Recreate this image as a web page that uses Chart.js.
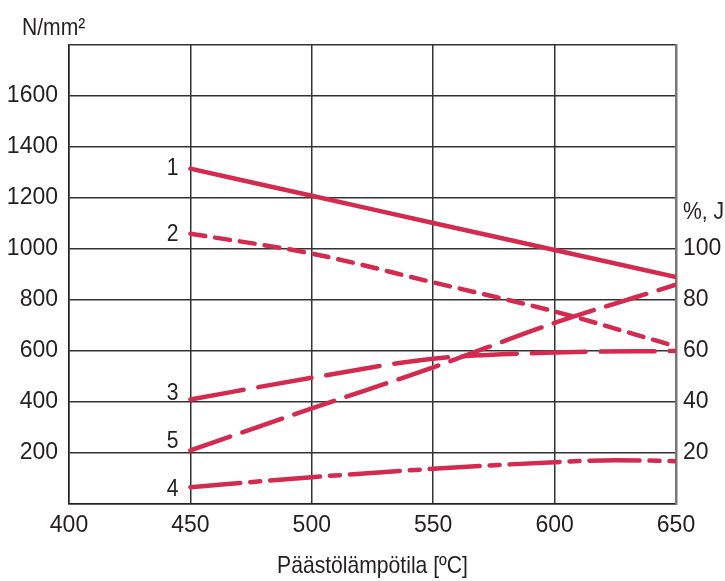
<!DOCTYPE html>
<html>
<head>
<meta charset="utf-8">
<script src="https://cdn.jsdelivr.net/npm/chart.js@4"></script>
<style>
  body { margin: 0; background: #fff; }
  canvas { display: block; }
</style>
</head>
<body>
<canvas id="chart" width="725" height="581"></canvas>
<script>
// temperatures (x) and curve values
const temps = [450, 500, 550, 600, 650];
const temps4 = [450, 500, 550, 600, 625, 650];
const xTicks = [400, 450, 500, 550, 600, 650];

// left axis, N/mm²
const curve1 = [1315, 1209, 1102, 996, 890];
const curve2 = [1060, 982, 869, 755, 618];
// right axis, %, J
const curve3 = [41, 49.5, 57, 59.4, 60];
const curve5 = [21, 37.5, 53.6, 71, 86];
const curve4 = [6.6, 10.5, 13.8, 16.4, 17.2, 16.8];

const curveNames = ['1', '2', '3', '4', '5'];

const red = '#d42a4f';
const ink = '#231f20';
const font = "'Liberation Sans', Arial, sans-serif";

function pts(xs, ys) {
  return xs.map((x, i) => ({ x: x, y: ys[i] }));
}

function line(name, xs, ys, axis, dash) {
  return {
    label: name,
    data: pts(xs, ys),
    yAxisID: axis,
    borderColor: red,
    borderWidth: 4.5,
    borderDash: dash,
    borderCapStyle: 'round',
    pointRadius: 0,
    fill: false,
    cubicInterpolationMode: 'monotone'
  };
}

const datasets = [
  line(curveNames[0], temps, curve1, 'y', []),
  line(curveNames[1], temps, curve2, 'y', [15, 10]),
  line(curveNames[2], temps, curve3, 'y2', [54, 15]),
  line(curveNames[3], temps4, curve4, 'y2', [50, 10, 10, 10]),
  line(curveNames[4], temps, curve5, 'y2', [42, 13])
];

// narrow text like the original lettering
function narrowText(ctx, text, x, y, align) {
  const sx = 0.88;
  ctx.save();
  ctx.translate(x, y);
  ctx.scale(sx, 1);
  ctx.textAlign = align;
  ctx.fillText(text, 0, 0);
  ctx.restore();
}

// text that is not part of an axis: unit titles and curve numbers
const textPlugin = {
  id: 'texts',
  afterDraw(chart) {
    const ctx = chart.ctx;
    const xs = chart.scales.x;
    ctx.save();
    ctx.fillStyle = ink;
    ctx.font = '24px ' + font;
    ctx.textBaseline = 'middle';
    narrowText(ctx, 'N/mm²', 22, 28, 'left');
    narrowText(ctx, '%, J', 683, 212, 'left');
    narrowText(ctx, 'Päästölämpötila [ºC]', (chart.chartArea.left + chart.chartArea.right) / 2, 566, 'center');

    const offsets = [0, 1, -6, 2, -9];
    chart.data.datasets.forEach((ds, i) => {
      const p = chart.getDatasetMeta(i).data[0];
      narrowText(ctx, ds.label, xs.getPixelForValue(450) - 12, p.y + offsets[i], 'right');
    });
    ctx.restore();
  }
};

new Chart(document.getElementById('chart'), {
  type: 'line',
  data: { datasets: datasets },
  plugins: [textPlugin],
  options: {
    responsive: false,
    animation: false,
    layout: { padding: { top: 45, left: 0, right: 0, bottom: 0 } },
    plugins: { legend: { display: false }, tooltip: { enabled: false } },
    scales: {
      x: {
        type: 'linear',
        min: 400,
        max: 650,
        afterBuildTicks: (s) => { s.ticks = xTicks.map(v => ({ value: v })); },
        afterFit: (s) => { s.height = 77; },
        ticks: { color: ink, font: { family: font, size: 23 }, padding: 8, maxRotation: 0 },
        grid: { color: '#333', lineWidth: 1.5, drawTicks: false },
        border: { color: '#222', width: 1.5 }
      },
      y: {
        position: 'left',
        min: 0,
        max: 1800,
        afterFit: (s) => { s.width = 69; },
        ticks: {
          stepSize: 200,
          color: ink,
          font: { family: font, size: 23 },
          padding: 11,
          callback: (v) => (v === 0 || v === 1800) ? '' : v
        },
        grid: { color: '#333', lineWidth: 1.5, drawTicks: false },
        border: { color: '#222', width: 1.5 }
      },
      y2: {
        position: 'right',
        min: 0,
        max: 180,
        afterFit: (s) => { s.width = 49; },
        ticks: {
          stepSize: 20,
          color: ink,
          font: { family: font, size: 23 },
          padding: 7,
          callback: (v) => (v >= 20 && v <= 100) ? v : ''
        },
        grid: { drawOnChartArea: false, drawTicks: false },
        border: { color: '#777', width: 2.5 }
      }
    }
  }
});
</script>
</body>
</html>
